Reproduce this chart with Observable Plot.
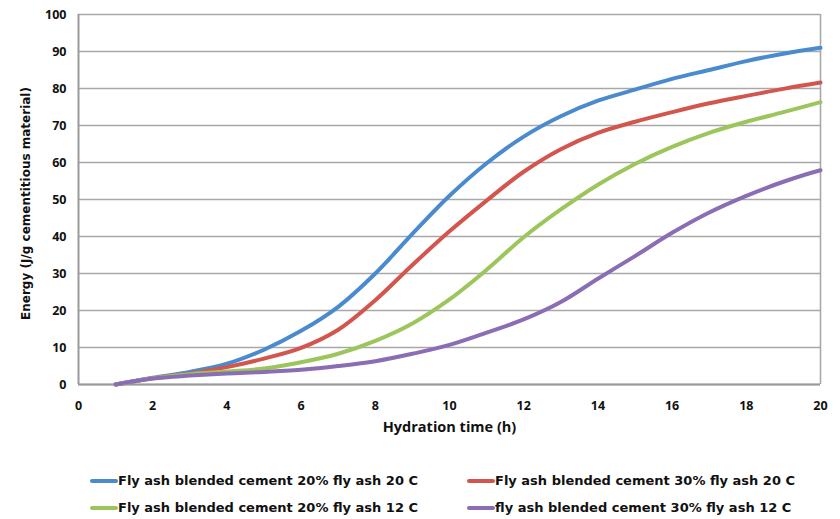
<!DOCTYPE html>
<html>
<head>
<meta charset="utf-8">
<script src="https://cdn.jsdelivr.net/npm/d3@7"></script>
<script src="https://cdn.jsdelivr.net/npm/@observablehq/plot@0.6"></script>
<style>
  html, body { margin: 0; padding: 0; background: #fff; }
  body { width: 840px; height: 519px; overflow: hidden; font-family: "Open Sans", sans-serif; }
  #legend {
    margin-top: 22px;
    padding-left: 90px;
    display: grid;
    grid-template-columns: 377px 377px;
    grid-auto-rows: 27px;
    font-family: "DejaVu Sans", sans-serif;
    font-weight: bold;
    font-size: 13px;
    color: #111;
  }
  .item { display: flex; align-items: center; white-space: nowrap; }
  .swatch { display: inline-block; width: 28px; height: 4px; border-radius: 2px; margin-right: 0; }
</style>
</head>
<body>
<div id="chart"></div>
<div id="legend"></div>
<script>
// Hydration time (h)
const hours = [1, 2, 3, 4, 5, 6, 7, 8, 9, 10, 11, 12, 13, 14, 15, 16, 17, 18, 19, 20];

// Cumulative heat of hydration (J/g cementitious material)
const fa20At20C = [0, 1.8, 3.4, 5.6, 9.4, 14.5, 21, 30, 40.7, 51, 59.8, 67, 72.5, 76.7, 79.7, 82.6, 85, 87.4, 89.4, 91];
const fa30At20C = [0, 1.7, 3.0, 4.7, 7.0, 9.9, 14.8, 22.8, 32.3, 41.4, 49.7, 57.5, 63.6, 68, 71, 73.6, 76, 78, 79.9, 81.6];
const fa20At12C = [0, 1.7, 2.8, 3.5, 4.3, 6.0, 8.3, 11.8, 16.5, 23, 31, 39.8, 47.3, 54, 59.6, 64.2, 68, 71, 73.6, 76.3];
const fa30At12C = [0, 1.6, 2.4, 3.0, 3.4, 4.0, 5.0, 6.3, 8.3, 10.7, 14, 17.6, 22.3, 28.6, 34.7, 41, 46.5, 51, 54.8, 57.9];

const seriesNames = [
  "Fly ash blended cement 20% fly ash 20 C",
  "Fly ash blended cement 30% fly ash 20 C",
  "Fly ash blended cement 20% fly ash 12 C",
  "fly ash blended cement 30% fly ash 12 C"
];
const seriesValues = [fa20At20C, fa30At20C, fa20At12C, fa30At12C];
const seriesColors = ["#4a8bcf", "#d2564d", "#9cc65b", "#8a6db4"];

const xTicks = [0, 2, 4, 6, 8, 10, 12, 14, 16, 18, 20];
const yTicks = [0, 10, 20, 30, 40, 50, 60, 70, 80, 90, 100];

const xTitle = "Hydration time (h)";
const yTitle = "Energy (J/g cementitious material)";

const rows = seriesNames.flatMap((name, i) =>
  hours.map((h, j) => ({series: name, hour: h, energy: seriesValues[i][j]}))
);

const gridColor = "#a8a8a8";
const font = "'Open Sans', sans-serif";

const chart = Plot.plot({
  width: 840,
  height: 445,
  marginTop: 14,
  marginLeft: 78,
  marginRight: 20,
  marginBottom: 61,
  style: {fontFamily: font, fontWeight: "bold", color: "#111", background: "#fff"},
  x: {domain: [0, 20]},
  y: {domain: [0, 100]},
  color: {domain: seriesNames, range: seriesColors},
  marks: [
    Plot.gridY(yTicks, {stroke: gridColor, strokeOpacity: 1, strokeWidth: 1.6}),
    Plot.ruleX([20], {stroke: gridColor, strokeWidth: 1.6}),
    Plot.ruleX([0], {stroke: "#9a9a9a", strokeWidth: 2}),
    Plot.ruleY([0], {stroke: "#9a9a9a", strokeWidth: 2}),
    Plot.axisX(xTicks, {tickSize: 0, tickPadding: 17, fontSize: 12.5, label: null, fill: "#111"}),
    Plot.axisY(yTicks, {tickSize: 0, tickPadding: 12, fontSize: 12.5, label: null, fill: "#111"}),
    Plot.text([xTitle], {frameAnchor: "bottom", dy: 47, fontSize: 14.5, fontWeight: "bold", fill: "#111"}),
    Plot.text([yTitle], {
      frameAnchor: "left", textAnchor: "middle", rotate: -90,
      dx: -52, dy: 4, fontSize: 12, fontFamily: "DejaVu Sans, sans-serif",
      fontWeight: "bold", fill: "#111"
    }),
    Plot.line(rows, {
      x: "hour",
      y: "energy",
      z: "series",
      stroke: "series",
      strokeWidth: 4,
      strokeLinecap: "round",
      curve: "catmull-rom"
    })
  ]
});
document.getElementById("chart").appendChild(chart);

// Legend, two columns in series order
const legend = d3.select("#legend");
seriesNames.forEach((name, i) => {
  const item = legend.append("div").attr("class", "item");
  item.append("span").attr("class", "swatch").style("background", seriesColors[i]);
  item.append("span").text(name);
});
</script>
</body>
</html>
